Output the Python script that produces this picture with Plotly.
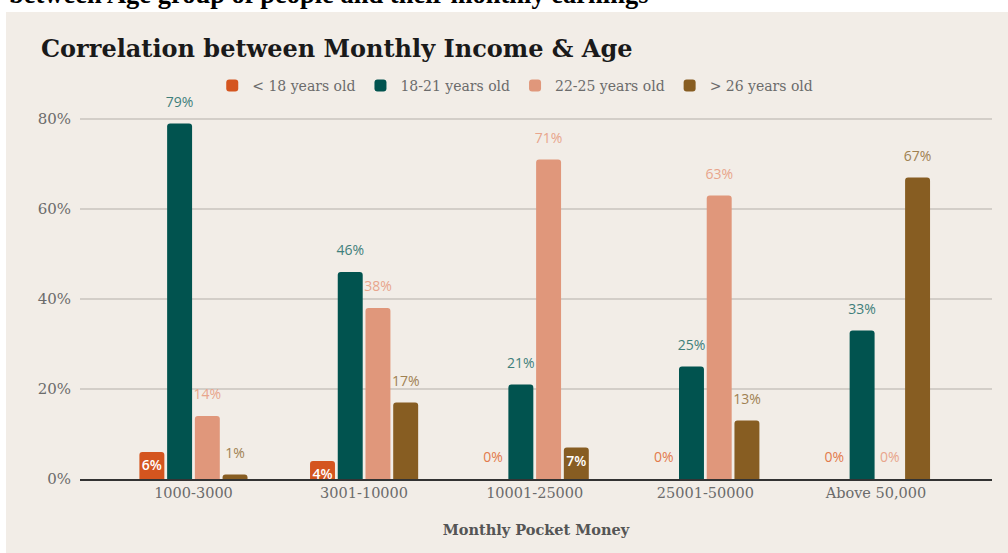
import plotly.graph_objects as go

# Monthly pocket money bands (x categories)
categories = ["1000-3000", "3001-10000", "10001-25000", "25001-50000", "Above 50,000"]

# Share of each age group within a pocket-money band (%)
age_groups = ["< 18 years old", "18-21 years old", "22-25 years old", "> 26 years old"]
under_18 = [6, 4, 0, 0, 0]
age_18_21 = [79, 46, 21, 25, 33]
age_22_25 = [14, 38, 71, 63, 0]
over_26 = [1, 17, 7, 13, 67]

y_ticks = [0, 20, 40, 60, 80]

series_values = [under_18, age_18_21, age_22_25, over_26]
bar_colors = ["#d4551f", "#01534f", "#e0977b", "#875d22"]
label_colors = ["#e27a4c", "#3f7f7b", "#e8a58c", "#a08152"]

# labels drawn inside the bar (white) instead of above it
inside_label = [
    [True, True, False, False, False],
    [False] * 5,
    [False] * 5,
    [False, False, True, False, False],
]

SERIF = "DejaVu Serif"
LABEL_FONT = "Open Sans"
PANEL = "#f2ede7"

fig = go.Figure()

for name, vals, color, inside in zip(age_groups, series_values, bar_colors, inside_label):
    fig.add_trace(go.Bar(
        name=name,
        x=categories,
        y=vals,
        marker=dict(color=color, cornerradius=3, line=dict(width=0)),
        text=[f"{v}%" if ins else "" for v, ins in zip(vals, inside)],
        textposition="inside",
        insidetextanchor="end",
        constraintext="none",
        textangle=0,
        textfont=dict(family=LABEL_FONT, size=14, color="white", weight=600),
        hoverinfo="skip",
    ))

# value labels above the bars, grouped to line up with the bar slots
for name, vals, color, inside in zip(age_groups, series_values, label_colors, inside_label):
    fig.add_trace(go.Scatter(
        x=categories,
        y=vals,
        mode="markers+text",
        marker=dict(size=20, opacity=0),
        text=["" if ins else f"{v}%" for v, ins in zip(vals, inside)],
        textposition="top center",
        textfont=dict(family=LABEL_FONT, size=14, color=color, weight=500),
        showlegend=False,
        hoverinfo="skip",
        cliponaxis=False,
    ))

# beige card behind the chart
fig.add_shape(type="rect", xref="paper", yref="paper",
              x0=-0.0811, x1=1.02, y0=-0.2, y1=1.2193,
              fillcolor=PANEL, line=dict(width=0), layer="below")

fig.add_annotation(text="<b>between Age group of people and their monthly earnings</b>",
                   xref="paper", yref="paper", x=-0.0789, y=1.2245,
                   xanchor="left", yanchor="bottom", showarrow=False, borderpad=0,
                   font=dict(family="Liberation Serif", size=26.5, color="black"))

fig.add_annotation(text="<b>Correlation between Monthly Income & Age</b>",
                   xref="paper", yref="paper", x=-0.0450, y=(479 - 49) / 383,
                   xanchor="left", yanchor="middle", showarrow=False,
                   font=dict(family=SERIF, size=24, color="#1a1a1a"))

fig.update_layout(
    width=1008, height=553,
    margin=dict(l=80, r=16, t=96, b=74),
    paper_bgcolor="white",
    plot_bgcolor="rgba(0,0,0,0)",
    barmode="group",
    bargap=0.35,
    bargroupgap=0.1,
    scattermode="group",
    scattergap=0.35,
    showlegend=True,
    legend=dict(orientation="h", x=0.145, y=(479 - 86) / 383, xanchor="left", yanchor="middle",
                font=dict(family=SERIF, size=14, color="#6b6b6b"),
                bgcolor="rgba(0,0,0,0)", traceorder="normal"),
    xaxis=dict(
        type="category",
        range=[-0.665, 4.68],
        showline=True, linecolor="#333333", linewidth=2,
        showgrid=False, ticks="",
        tickfont=dict(family=SERIF, size=14.5, color="#6b6b6b"),
        title=dict(text="<b>Monthly Pocket Money</b>", standoff=24,
                   font=dict(family=SERIF, size=14.5, color="#555555")),
        fixedrange=True,
    ),
    yaxis=dict(
        range=[0, 383 / 4.5],
        tickvals=y_ticks,
        ticktext=[f"{t}%" for t in y_ticks],
        showgrid=True, gridcolor="#d3cec8", gridwidth=1.5,
        zeroline=False, showline=False, ticks="",
        ticklabelstandoff=8,
        tickfont=dict(family=SERIF, size=15, color="#6b6b6b"),
        fixedrange=True,
    ),
)

fig.write_html("out.html")
